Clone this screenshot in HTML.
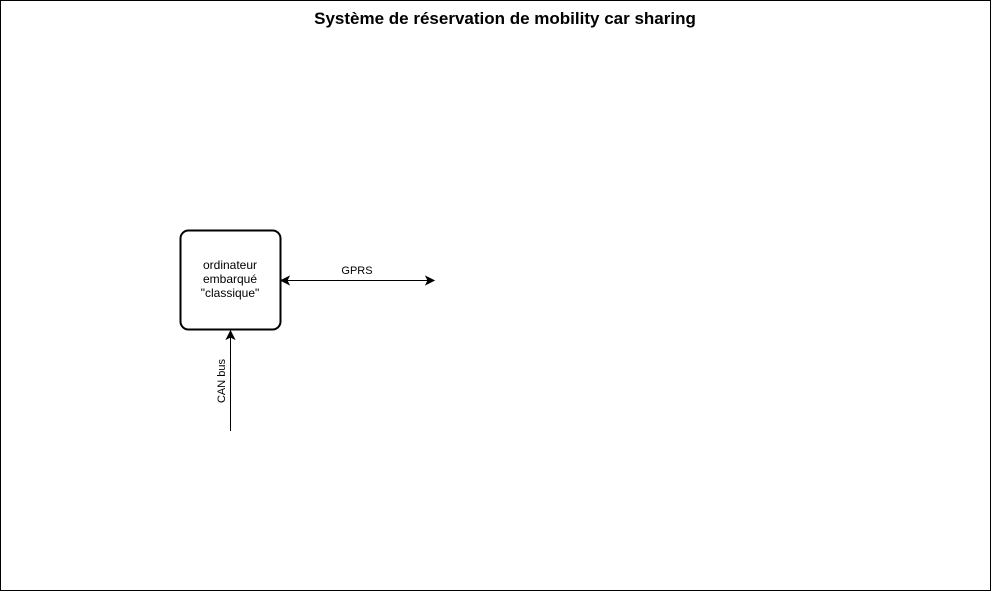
<!DOCTYPE html>
<html><head><meta charset="utf-8"><style>
html,body{margin:0;padding:0;background:#fff;width:991px;height:591px;overflow:hidden}
</style></head><body>
<svg width="991" height="591" xmlns="http://www.w3.org/2000/svg" font-family="Liberation Sans, Arial, sans-serif">
<rect x="0.5" y="0.5" width="990" height="590" fill="#fff" stroke="#000" stroke-width="1"/>
<text x="505" y="24" text-anchor="middle" font-size="17" font-weight="bold">Système de réservation de mobility car sharing</text>
<rect x="180.5" y="230.5" width="100" height="99" rx="8" fill="#fff" stroke="#000" stroke-width="2"/>
<text font-size="12" text-anchor="middle"><tspan x="230" y="269">ordinateur</tspan><tspan x="230" y="283">embarqué</tspan><tspan x="230" y="297">"classique"</tspan></text>
<line x1="287" y1="280.5" x2="428" y2="280.5" stroke="#000"/>
<path d="M281 280.5 L289 276.5 L287 280.5 L289 284.5 Z" fill="#000" stroke="#000"/>
<path d="M434 280.5 L426 276.5 L428 280.5 L426 284.5 Z" fill="#000" stroke="#000"/>
<text x="357" y="274" font-size="11" text-anchor="middle">GPRS</text>
<line x1="230.5" y1="337" x2="230.5" y2="431" stroke="#000"/>
<path d="M230.5 331 L226.5 339 L230.5 337 L234.5 339 Z" fill="#000" stroke="#000"/>
<text x="0" y="0" font-size="11" text-anchor="middle" transform="translate(225 381) rotate(-90)">CAN bus</text>
</svg>
</body></html>
